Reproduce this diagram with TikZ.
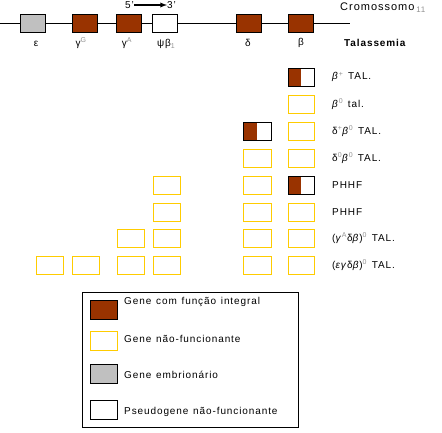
\documentclass[tikz,border=0pt]{standalone}
\usepackage{fontspec}
\setmainfont[LetterSpace=9,WordSpace=1.3]{Liberation Sans}
\definecolor{genebrown}{HTML}{993300}
\definecolor{geneyellow}{HTML}{FFCC00}
\definecolor{genegrey}{HTML}{C0C0C0}
\definecolor{supgrey}{HTML}{909090}
\newcommand{\sg}[1]{\textsuperscript{\color{supgrey}#1}}
\begin{document}
\begin{tikzpicture}[x=1pt,y=-1pt,
  genebox/.style={draw=black,line width=1pt,minimum width=25pt,minimum height=18pt,inner sep=0pt},
  brownbox/.style={genebox,fill=genebrown},
  greybox/.style={genebox,fill=genegrey},
  whitebox/.style={genebox,fill=white},
  rowbox/.style={draw=geneyellow,line width=1pt,minimum width=27pt,minimum height=18pt,inner sep=0pt},
  splitbox/.style={genebox,minimum width=26pt,path picture={\fill[genebrown] (path picture bounding box.south west) rectangle (path picture bounding box.north);}},
  lbl/.style={font=\fontsize{10}{12}\selectfont,inner sep=0pt},
  rowlbl/.style={lbl,anchor=west},
  legtxt/.style={lbl,anchor=west}
]
\useasboundingbox (0,0) rectangle (442,432);

% chromosome line
\coordinate (l0) at (0,23);
\coordinate (l1) at (350,23);
\draw[line width=1pt] (l0) -- (l1);

% genes on chromosome
\node[greybox] (eps) at (33,23) {};
\node[brownbox] (gG) at (84.5,23) {};
\node[brownbox] (gA) at (129,23) {};
\node[whitebox] (psi) at (165,23) {};
\node[brownbox] (del) at (248.5,23) {};
\node[brownbox] (bet) at (301,23) {};

% gene labels
\node[lbl] (teps) at (36,44) {ε};
\node[lbl] (tgG) at (81,43) {γ\sg{G}};
\node[lbl] (tgA) at (127,43) {γ\sg{A}};
\node[lbl] (tpsi) at (166,44) {ψβ{\color{supgrey}\raisebox{-0.3ex}{\scriptsize 1}}};
\node[lbl] (tdel) at (248,43) {δ};
\node[lbl] (tbet) at (301,43) {β};
\node[lbl,anchor=west] (tal) at (344,43) {\textbf{Talassemia}};

% header
\node[lbl,anchor=east] (p5) at (134,5) {5’};
\node[lbl,anchor=west] (p3) at (167,5) {3’};
\draw[line width=1.3pt,-latex] (p5.east) -- (p3.west);
\node[lbl,anchor=west,font=\fontsize{11}{13}\selectfont] (crom) at (340,8) {Cromossomo\,{\color{supgrey}\raisebox{-0.3ex}{\footnotesize 11}}};

% row 1
\node[splitbox] (r1b) at (301,77) {};
\node[rowlbl] (t1) at (332,77) {\textit{β}\sg{+} TAL.};
% row 2
\node[rowbox,minimum width=26pt] (r2b) at (301,104) {};
\node[rowlbl] (t2) at (332,104) {\textit{β}\sg{0} tal.};
% row 3
\node[splitbox,minimum width=28pt] (r3d) at (257,131) {};
\node[rowbox,minimum width=26pt] (r3b) at (301,131) {};
\node[rowlbl] (t3) at (332,131) {δ\sg{+}\textit{β}\sg{0} TAL.};
% row 4
\node[rowbox,minimum width=28pt] (r4d) at (257,158) {};
\node[rowbox,minimum width=26pt] (r4b) at (301,158) {};
\node[rowlbl] (t4) at (332,158) {δ\sg{0}\textit{β}\sg{0} TAL.};
% row 5
\node[rowbox] (r5p) at (166.5,185) {};
\node[rowbox,minimum width=28pt] (r5d) at (257,185) {};
\node[splitbox] (r5b) at (301,185) {};
\node[rowlbl] (t5) at (332,185) {PHHF};
% row 6
\node[rowbox] (r6p) at (166.5,212) {};
\node[rowbox,minimum width=28pt] (r6d) at (257,212) {};
\node[rowbox,minimum width=26pt] (r6b) at (301,212) {};
\node[rowlbl] (t6) at (332,212) {PHHF};
% row 7
\node[rowbox] (r7a) at (130.5,238) {};
\node[rowbox] (r7p) at (166.5,238) {};
\node[rowbox,minimum width=28pt] (r7d) at (257,238) {};
\node[rowbox,minimum width=26pt] (r7b) at (301,238) {};
\node[rowlbl] (t7) at (332,238) {(\textit{γ}\sg{A}δ\textit{β})\sg{0} TAL.};
% row 8
\node[rowbox] (r8e) at (49.5,265) {};
\node[rowbox] (r8g) at (85.5,265) {};
\node[rowbox] (r8a) at (130.5,265) {};
\node[rowbox] (r8p) at (166.5,265) {};
\node[rowbox,minimum width=28pt] (r8d) at (257,265) {};
\node[rowbox,minimum width=26pt] (r8b) at (301,265) {};
\node[rowlbl] (t8) at (332,265) {(\textit{εγ}δ\textit{β})\sg{0} TAL.};

% legend
\node[draw=black,line width=1pt,minimum width=216pt,minimum height=135pt,inner sep=0pt] (leg) at (190,359.5) {};
\node[brownbox,minimum width=27pt,minimum height=19pt] (k1) at (104,309.5) {};
\node[rowbox,minimum width=27pt,minimum height=19pt] (k2) at (104,340.5) {};
\node[greybox,minimum width=27pt,minimum height=19pt] (k3) at (104,373.5) {};
\node[whitebox,minimum width=27pt,minimum height=19pt] (k4) at (104,410) {};
\node[legtxt] (lt1) at (124,302) {Gene com função integral};
\node[legtxt] (lt2) at (124,339) {Gene não-funcionante};
\node[legtxt] (lt3) at (124,375) {Gene embrionário};
\node[legtxt] (lt4) at (124,412) {Pseudogene não-funcionante};
\end{tikzpicture}
\end{document}
